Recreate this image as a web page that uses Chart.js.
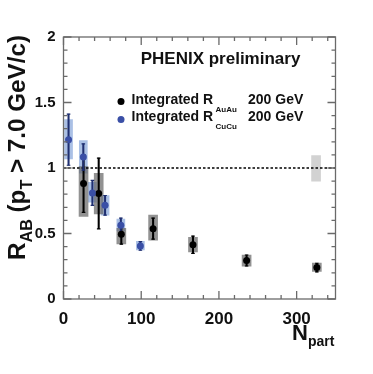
<!DOCTYPE html>
<html>
<head>
<meta charset="utf-8">
<script src="https://cdn.jsdelivr.net/npm/chart.js@4.4.0/dist/chart.umd.min.js"></script>
<style>
body { margin: 0; background: #fff; }
#wrap { width: 373px; height: 374px; }
</style>
</head>
<body>
<div id="wrap"><canvas id="myChart" width="373" height="374"></canvas></div>
<script>
// Cu+Cu 200 GeV
let npartCu = [6.5, 25.5, 37.2, 53.5, 73.8, 98.9];
let raaCu = [1.216, 1.084, 0.81, 0.715, 0.563, 0.405];
let statCu = [0.195, 0.10, 0.095, 0.075, 0.055, 0.033];
let sysLoCu = [1.07, 0.96, 0.74, 0.64, 0.52, 0.375];
let sysHiCu = [1.37, 1.21, 0.89, 0.79, 0.61, 0.44];

// Au+Au 200 GeV
let npartAu = [25.8, 45.3, 74.4, 115.3, 166.6, 235.6, 326];
let raaAu = [0.882, 0.806, 0.494, 0.537, 0.414, 0.294, 0.24];
let statAu = [0.22, 0.27, 0.075, 0.08, 0.066, 0.042, 0.033];
let sysLoAu = [0.63, 0.65, 0.42, 0.45, 0.36, 0.25, 0.21];
let sysHiAu = [1.01, 0.96, 0.54, 0.64, 0.47, 0.335, 0.275];

// global normalisation box and reference line
let globalNpart = [325];
let globalLo = [0.90];
let globalHi = [1.095];
let refLine = 1;

let xTicks = [0, 100, 200, 300];
let yTicks = [0, 0.5, 1, 1.5, 2];

const FONT = '"Liberation Sans", Arial, sans-serif';

function boxes(xs, lo, hi) {
    return xs.map((x, i) => ({x: x, y: [lo[i], hi[i]]}));
}
function statBars(xs, v, e) {
    return xs.map((x, i) => ({x: x, y: [v[i] - e[i], v[i] + e[i]]}));
}
function caps(xs, v, e) {
    let out = [];
    xs.forEach((x, i) => {
        out.push({x: x, y: v[i] + e[i]});
        out.push({x: x, y: v[i] - e[i]});
    });
    return out;
}
function points(xs, v) {
    return xs.map((x, i) => ({x: x, y: v[i]}));
}

function drawRuns(ctx, runs, x, y) {
    runs.forEach(r => {
        ctx.font = 'bold ' + r.size + 'px ' + FONT;
        ctx.fillText(r.text, x, y + (r.dy || 0));
        x += ctx.measureText(r.text).width;
    });
}
function runsWidth(ctx, runs) {
    let w = 0;
    runs.forEach(r => {
        ctx.font = 'bold ' + r.size + 'px ' + FONT;
        w += ctx.measureText(r.text).width;
    });
    return w;
}

const framePlugin = {
    id: 'frame',
    afterDraw(chart) {
        const ctx = chart.ctx;
        const a = chart.chartArea;
        const xs = chart.scales.x, ys = chart.scales.y;
        ctx.save();
        ctx.strokeStyle = '#6a6a6a';
        ctx.lineWidth = 1.3;
        ctx.strokeRect(a.left, a.top, a.right - a.left, a.bottom - a.top);

        ctx.beginPath();
        for (let v = 0; v <= 340; v += 20) {
            const p = xs.getPixelForValue(v);
            const len = v % 100 === 0 ? 8 : 4;
            ctx.moveTo(p, a.bottom); ctx.lineTo(p, a.bottom - len);
            ctx.moveTo(p, a.top); ctx.lineTo(p, a.top + len);
        }
        for (let k = 0; k <= 20; k++) {
            const p = ys.getPixelForValue(k / 10);
            const len = k % 5 === 0 ? 8 : 4;
            ctx.moveTo(a.left, p); ctx.lineTo(a.left + len, p);
            ctx.moveTo(a.right, p); ctx.lineTo(a.right - len, p);
        }
        ctx.stroke();

        ctx.fillStyle = '#111';
        ctx.textAlign = 'left';
        ctx.textBaseline = 'alphabetic';

        // y axis title
        const yRuns = [
            {text: 'R', size: 24},
            {text: 'AB', size: 16, dy: 7},
            {text: ' (p', size: 24},
            {text: 'T', size: 16, dy: 7},
            {text: ' > 7.0 GeV/c)', size: 24}
        ];
        const w = runsWidth(ctx, yRuns);
        ctx.save();
        ctx.translate(25, 260);
        ctx.rotate(-Math.PI / 2);
        ctx.scale(225 / w, 1);
        drawRuns(ctx, yRuns, 0, 0);
        ctx.restore();

        // x axis title
        drawRuns(ctx, [
            {text: 'N', size: 22},
            {text: 'part', size: 14, dy: 6}
        ], 292, 340);

        // label
        ctx.font = 'bold 17px ' + FONT;
        ctx.fillText('PHENIX preliminary', 140.7, 64.3);

        // legend
        ctx.fillStyle = '#000';
        ctx.beginPath(); ctx.arc(121, 101.5, 3.5, 0, Math.PI * 2); ctx.fill();
        ctx.fillStyle = '#3a4fa6';
        ctx.beginPath(); ctx.arc(121, 119.5, 3.5, 0, Math.PI * 2); ctx.fill();
        ctx.fillStyle = '#111';
        ctx.font = 'bold 14px ' + FONT;
        ctx.fillText('Integrated R', 131.5, 103.5);
        ctx.fillText('200 GeV', 248, 103.5);
        ctx.fillText('Integrated R', 131.5, 120.5);
        ctx.fillText('200 GeV', 248, 120.5);
        ctx.font = 'bold 8px ' + FONT;
        ctx.fillText('AuAu', 215.5, 112);
        ctx.fillText('CuCu', 215.5, 129);
        ctx.restore();
    }
};

let myChart = new Chart(document.getElementById('myChart').getContext('2d'), {
    type: 'bar',
    data: {
        datasets: [
            {
                type: 'bar',
                data: boxes(globalNpart, globalLo, globalHi),
                backgroundColor: '#d2d2d2',
                barThickness: 9,
                grouped: false,
                order: 10
            },
            {
                type: 'bar',
                data: boxes(npartCu, sysLoCu, sysHiCu),
                backgroundColor: 'rgba(125,158,215,0.65)',
                barThickness: 8,
                grouped: false,
                order: 9
            },
            {
                type: 'bar',
                data: boxes(npartAu, sysLoAu, sysHiAu),
                backgroundColor: 'rgba(100,100,100,0.7)',
                barThickness: 9,
                grouped: false,
                order: 8
            },
            {
                type: 'line',
                data: [{x: 0, y: refLine}, {x: 350, y: refLine}],
                borderColor: '#000',
                borderWidth: 1.4,
                borderDash: [2.5, 2],
                pointRadius: 0,
                order: 7
            },
            {
                type: 'bar',
                data: statBars(npartCu, raaCu, statCu),
                backgroundColor: '#1f2f70',
                barThickness: 1.4,
                grouped: false,
                order: 5
            },
            {
                type: 'bar',
                data: statBars(npartAu, raaAu, statAu),
                backgroundColor: '#000',
                barThickness: 1.4,
                grouped: false,
                order: 5
            },
            {
                type: 'scatter',
                data: caps(npartCu, raaCu, statCu),
                pointStyle: 'line',
                pointRadius: 1.8,
                borderColor: '#1f2f70',
                borderWidth: 1.2,
                order: 4
            },
            {
                type: 'scatter',
                data: caps(npartAu, raaAu, statAu),
                pointStyle: 'line',
                pointRadius: 1.8,
                borderColor: '#000',
                borderWidth: 1.2,
                order: 4
            },
            {
                type: 'scatter',
                data: points(npartAu, raaAu),
                pointRadius: 3.5,
                backgroundColor: '#000',
                borderWidth: 0,
                order: 2
            },
            {
                type: 'scatter',
                data: points(npartCu, raaCu),
                pointRadius: 3.5,
                backgroundColor: '#3a4fa6',
                borderWidth: 0,
                order: 1
            }
        ]
    },
    options: {
        responsive: false,
        animation: false,
        devicePixelRatio: 1,
        layout: { padding: { left: 0, top: 37, right: 37.5, bottom: 0 } },
        plugins: {
            legend: { display: false },
            tooltip: { enabled: false }
        },
        scales: {
            x: {
                type: 'linear',
                min: 0,
                max: 350,
                offset: false,
                grid: { display: false, drawTicks: false, offset: false },
                border: { display: false },
                afterFit: s => { s.height = 374 - 299; },
                afterBuildTicks: s => { s.ticks = xTicks.map(v => ({value: v})); },
                ticks: {
                    padding: 10,
                    color: '#111',
                    maxRotation: 0,
                    callback: v => String(v),
                    font: { family: FONT, size: 17, weight: 'bold' }
                }
            },
            y: {
                type: 'linear',
                min: 0,
                max: 2,
                grid: { display: false, drawTicks: false },
                border: { display: false },
                afterFit: s => { s.width = 63.5; },
                afterBuildTicks: s => { s.ticks = yTicks.map(v => ({value: v})); },
                ticks: {
                    padding: 8,
                    color: '#111',
                    callback: v => String(v),
                    font: { family: FONT, size: 15, weight: 'bold' }
                }
            }
        }
    },
    plugins: [framePlugin]
});
</script>
</body>
</html>
